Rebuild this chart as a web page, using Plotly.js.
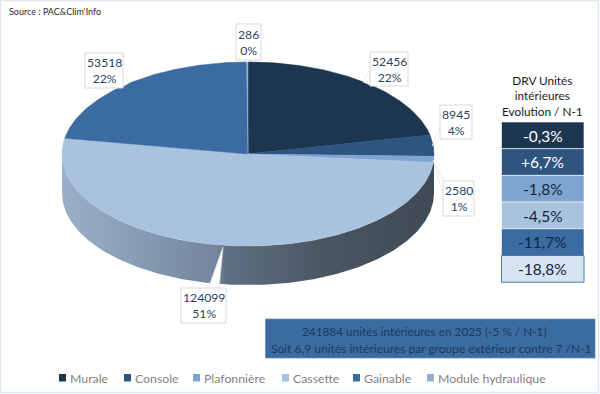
<!DOCTYPE html>
<html><head><meta charset="utf-8">
<script src="https://cdn.plot.ly/plotly-3.0.1.min.js"></script>
<style>html,body{margin:0;padding:0;background:#fff}#c{width:600px;height:394px}</style></head>
<body><div id="c"></div>
<script>
const categories = ["Murale","Console","Plafonnière","Cassette","Gainable","Module hydraulique"];
const unites = [52456,8945,2580,124099,53518,286];
const colors = ["#1c3650","#2e5480","#7ea4d0","#a9c3de","#3a6ba1","#94aecf"];
const evolutions = ["-0,3%","+6,7%","-1,8%","-4,5%","-11,7%","-18,8%"];
const evoFill = ["#1c3650","#2e5480","#7ea4d0","#a9c3de","#3a6ba1","#d6e3f1"];
const evoText = ["#ffffff","#ffffff","#14263a","#14263a","#14263a","#14263a"];
const infoLines = ["241884 unités intérieures en 2025 (-5 % / N-1)","Soit 6,9 unités intérieures par groupe extérieur contre 7 /N-1"];
const tableTitle = "DRV Unités<br>intérieures<br>Evolution / N-1";
const sourceText = "Source : PAC&Clim'Info";

const FONT = "Lato, Carlito, sans-serif";
const cx=248, cy=154, rx=186, ry=92, depth=39;
const total = unites.reduce((a,b)=>a+b,0);
const pt = d => [cx+rx*Math.sin(d*Math.PI/180), cy-ry*Math.cos(d*Math.PI/180)];

const traces=[]; const sectors=[]; let acc=0;
unites.forEach((v,i)=>{const s=acc/total*360; acc+=v; sectors.push([s,acc/total*360,i]);});

// front wall
{
  const xs=[],ys=[];
  for(let d=90;d<=270;d+=1){const p=pt(d);xs.push(p[0]);ys.push(p[1]);}
  for(let d=270;d>=90;d-=1){const p=pt(d);xs.push(p[0]);ys.push(p[1]+depth);}
  traces.push({type:"scatter",mode:"lines",x:xs,y:ys,fill:"toself",line:{width:0},hoverinfo:"skip",showlegend:false,
    fillgradient:{type:"horizontal",start:62,stop:434,colorscale:[[0,"#9bb0c8"],[0.25,"#8497b0"],[0.42,"#72859c"],[0.44,"#5f7083"],[0.7,"#4a5662"],[1,"#3f4a55"]]}});
}
// top faces
sectors.forEach(([a,b,i])=>{
  const xs=[cx],ys=[cy];
  const n=Math.max(2,Math.ceil(b-a));
  for(let k=0;k<=n;k++){const p=pt(a+(b-a)*k/n);xs.push(p[0]);ys.push(p[1]);}
  xs.push(cx);ys.push(cy);
  traces.push({type:"scatter",mode:"lines",name:categories[i],x:xs,y:ys,fill:"toself",fillcolor:colors[i],
    line:{width:0.5,color:colors[i]},hoverinfo:"skip",showlegend:false});
});

const shapes=[], annotations=[];
const text=(x,y,t,size,color,extra)=>annotations.push(Object.assign({xref:"x",yref:"y",x,y,text:t,showarrow:false,
  font:{family:FONT,size,color},xanchor:"center",yanchor:"middle"},extra||{}));

// page border
shapes.push({type:"rect",x0:0.5,x1:598.5,y0:0.5,y1:392.5,line:{color:"#dfe7f1",width:1.5},fillcolor:"rgba(0,0,0,0)"});
text(7,11,sourceText,9,"#2b2b2b",{xanchor:"left"});

// callouts
const labelBoxes=[
 {i:5,b:[236,24,261,60],w:"M244,60 L247,62 L250,60 Z"},
 {i:4,b:[85,53,123,88],w:"M122,74 L129,83 L122,87 Z"},
 {i:0,b:[370,52,408,86],w:"M370,70 L363,82 L370,85 Z"},
 {i:1,b:[440,105,472,139],w:"M441,125 L432,146 L441,138 Z"},
 {i:2,b:[443,181,474,216],w:"M444,182 L433,160 L444,198 Z"},
 {i:3,b:[181,288,226,323],w:"M208,289 L223,247 L219,289 Z"}
];
labelBoxes.forEach(o=>{
  const [x0,y0,x1,y1]=o.b;
  shapes.push({type:"path",path:o.w,fillcolor:"#ffffff",line:{color:"#e2e2e2",width:0.7},layer:"above"});
  shapes.push({type:"rect",x0,y0,x1,y1,fillcolor:"#ffffff",line:{color:"#d9d9d9",width:1},layer:"above"});
  const pct=Math.round(unites[o.i]/total*100);
  text((x0+x1)/2,(y0+y1)/2,unites[o.i]+"<br>"+pct+"%",12.2,"#2a4562");
});

// evolution table
text(542.5,96,tableTitle,11.8,"#1a1a1a");
evolutions.forEach((e,i)=>{
  const y0=122+i*26.7;
  shapes.push({type:"rect",x0:501.5,x1:584,y0:y0,y1:y0+26.7,fillcolor:evoFill[i],
    line:{color:i==5?"#4f79a6":"#ffffff",width:i==5?1:0.6},layer:"above"});
  text(542.5,y0+13.5,e,15.5,evoText[i]);
});

// info box
shapes.push({type:"rect",x0:265.5,x1:595,y0:319,y1:358,fillcolor:"#3a6ba1",line:{color:"#5f8ab8",width:0.7},layer:"above"});
text(424.5,331,infoLines[0],11.8,"#1c3a5e");
text(431,348,infoLines[1],12,"#1c3a5e");

// legend
const legendSwatch=[59,124,193,282,353,427];
categories.forEach((c,i)=>{
  const x=legendSwatch[i];
  shapes.push({type:"rect",x0:x,x1:x+7,y0:374,y1:381.5,fillcolor:colors[i],line:{width:0},layer:"above"});
  text(x+9,378,c,12.3,"#7f7f7f",{xanchor:"left"});
});

Plotly.newPlot("c",traces,{
  width:600,height:394,margin:{l:0,r:0,t:0,b:0},paper_bgcolor:"#fff",plot_bgcolor:"#fff",showlegend:false,hovermode:false,
  xaxis:{range:[0,600],visible:false,fixedrange:true},
  yaxis:{range:[394,0],visible:false,fixedrange:true},
  shapes,annotations,font:{family:FONT}
},{displayModeBar:false,staticPlot:true});
</script></body></html>
